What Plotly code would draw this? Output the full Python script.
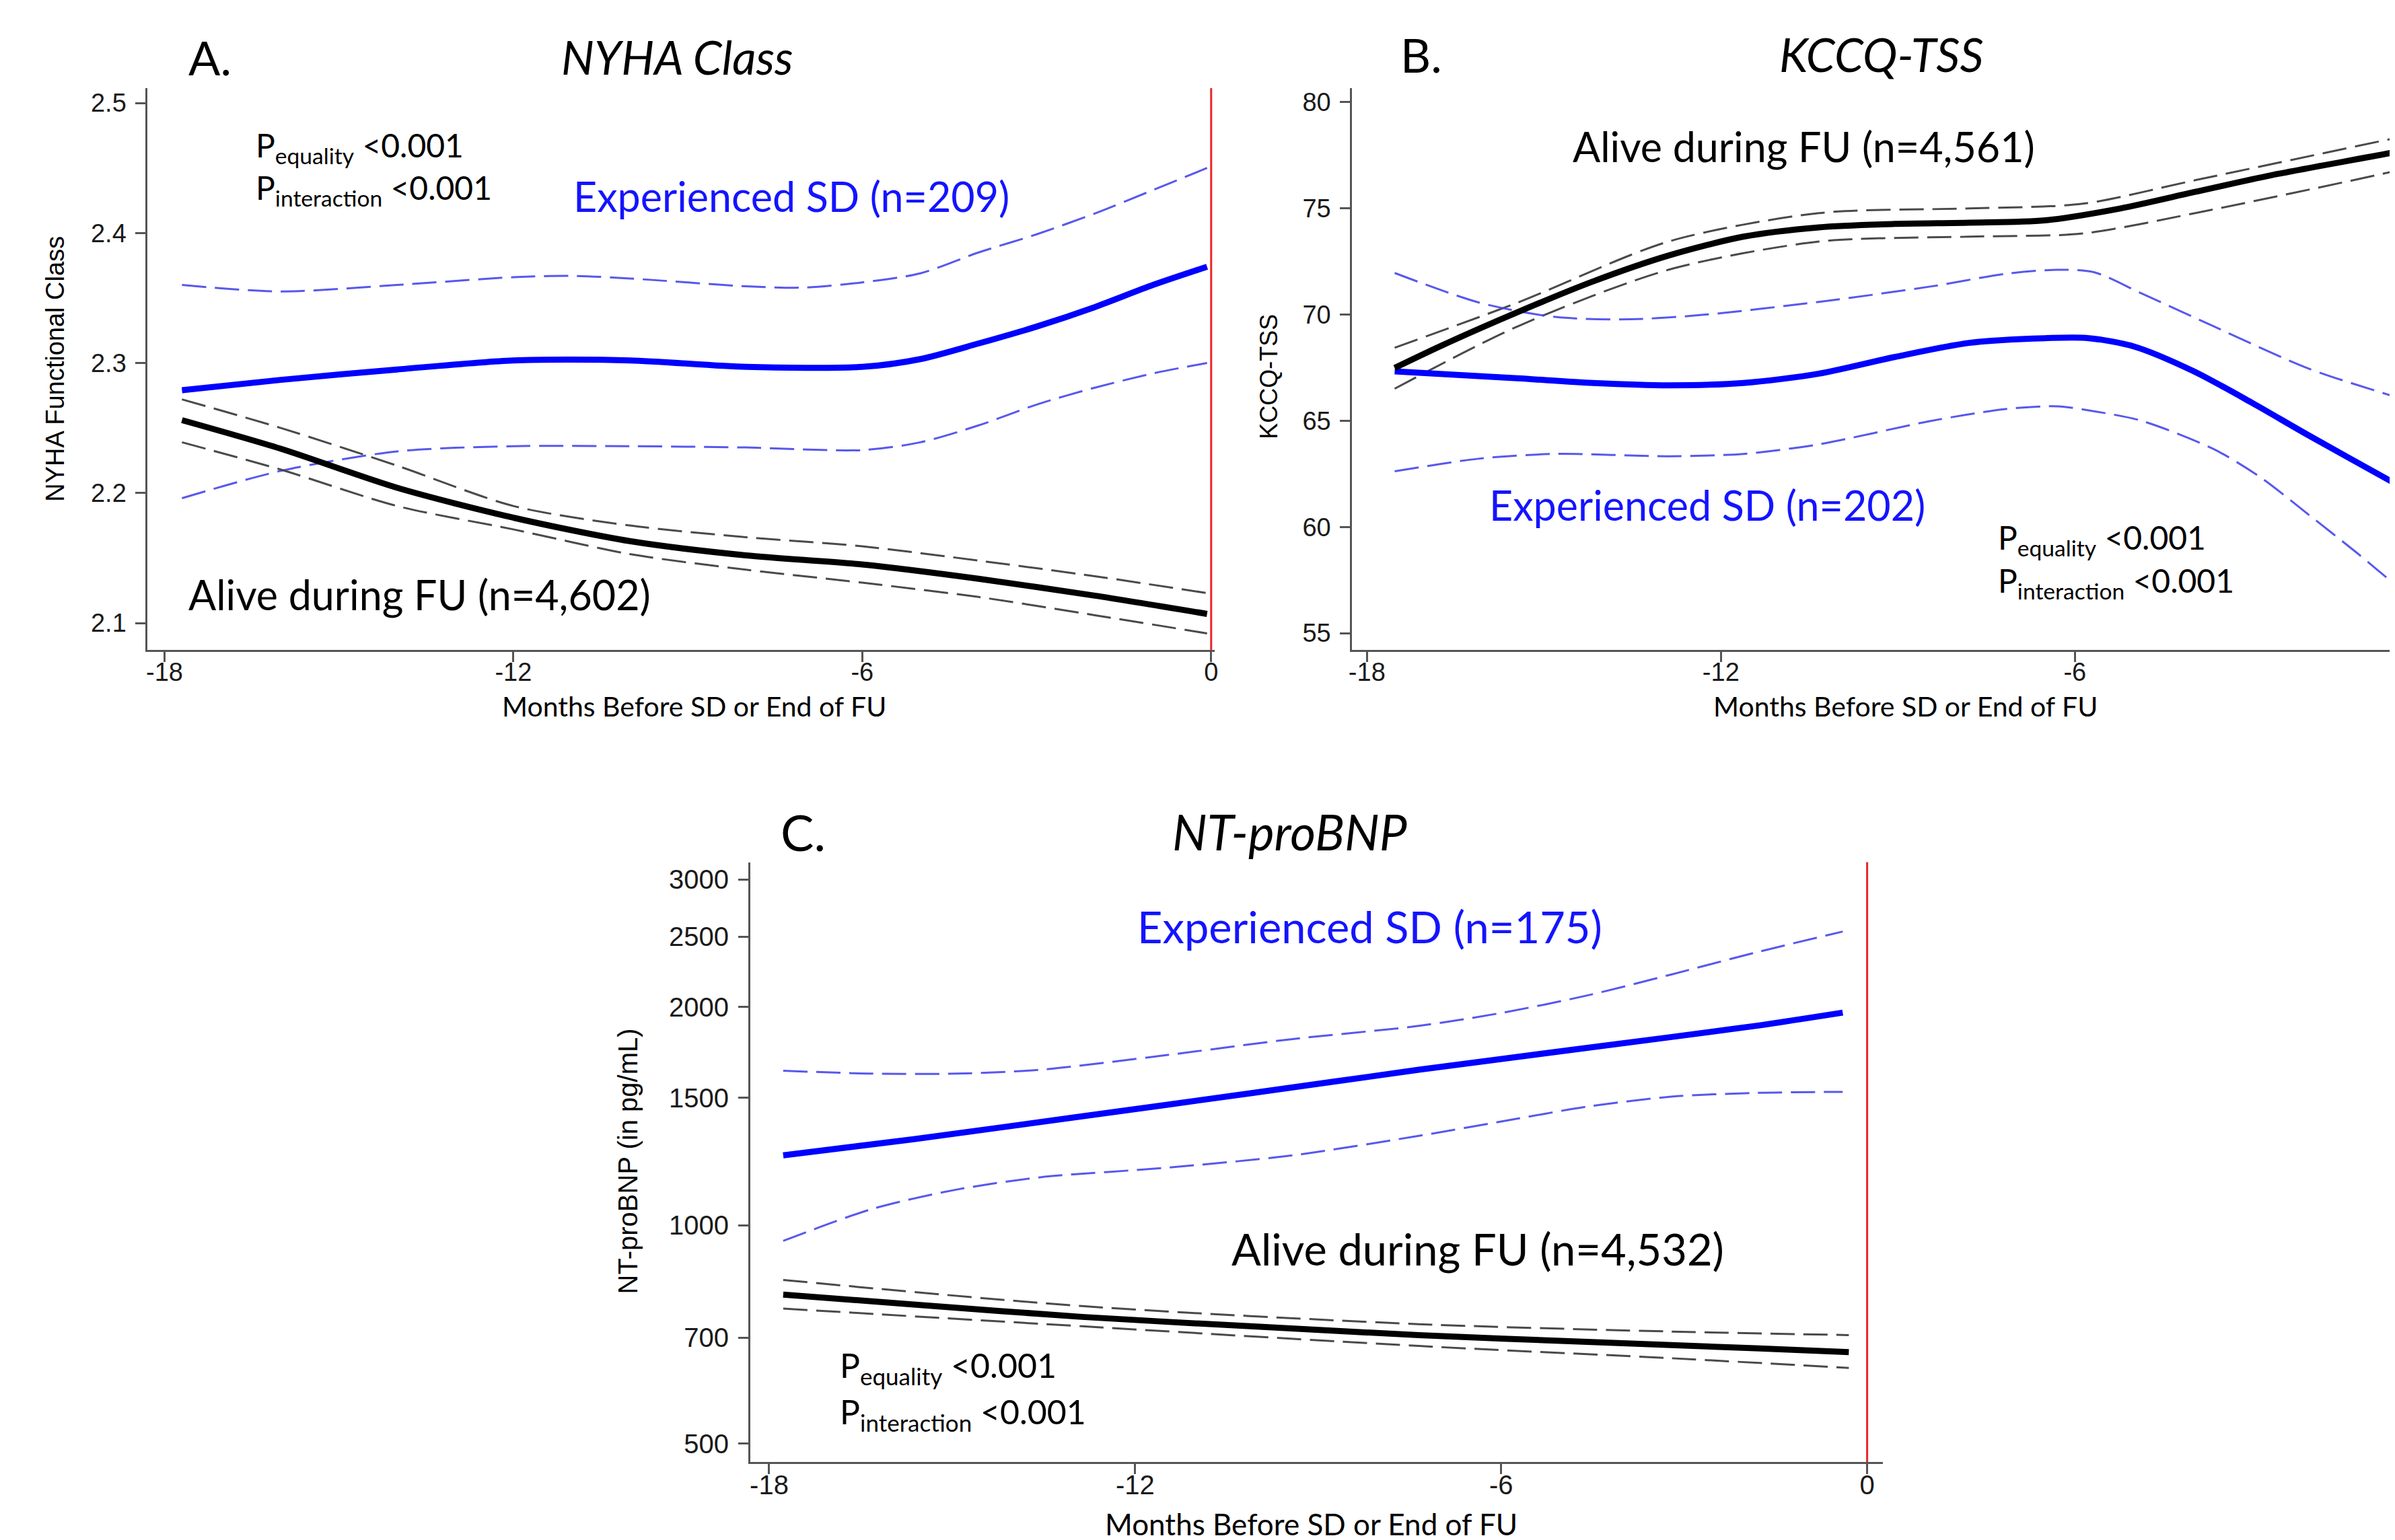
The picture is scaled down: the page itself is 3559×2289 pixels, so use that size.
import plotly.graph_objects as go

W, H = 3559, 2289

# ---------------- Panel A: NYHA class ----------------
a_blue_x = [-17.7, -16, -14, -12, -10, -8, -6, -5, -4, -3, -2, -1, -0.07]
a_blue = [2.279, 2.287, 2.295, 2.302, 2.302, 2.297, 2.297, 2.303, 2.315, 2.328, 2.343, 2.36, 2.374]
a_blue_hi_x = [-17.7, -16, -14, -12, -11, -10, -8, -7, -6, -5, -4, -3, -2, -1, -0.07]
a_blue_hi = [2.360, 2.355, 2.360, 2.366, 2.367, 2.365, 2.359, 2.358, 2.362, 2.369, 2.385, 2.399, 2.415, 2.433, 2.450]
a_blue_lo_x = [-17.7, -16, -14, -12, -10, -8, -6, -5, -4, -3, -2, -1, -0.07]
a_blue_lo = [2.196, 2.217, 2.232, 2.236, 2.236, 2.235, 2.233, 2.239, 2.252, 2.268, 2.281, 2.292, 2.300]
a_blk_x = [-17.7, -16, -14, -12, -10, -8, -6, -4, -2, -0.07]
a_blk = [2.256, 2.234, 2.204, 2.181, 2.163, 2.152, 2.145, 2.134, 2.121, 2.107]
a_blk_hi = [2.272, 2.250, 2.221, 2.190, 2.175, 2.166, 2.159, 2.148, 2.136, 2.123]
a_blk_lo = [2.239, 2.218, 2.190, 2.172, 2.153, 2.141, 2.131, 2.120, 2.106, 2.092]

# ---------------- Panel B: KCCQ-TSS ----------------
b_blk_x = [-17.53, -16.72, -15.45, -14.17, -12.89, -11.62, -10.34, -9.06, -7.79, -6.51, -5.23, -3.96, -2.68, -0.54, -0.07]
b_blk = [67.49, 68.56, 70.11, 71.56, 72.78, 73.67, 74.11, 74.27, 74.33, 74.44, 75.0, 75.78, 76.56, 77.67, 77.95]
b_blk_band_x = [-17.53, -15.45, -12.89, -10.34, -7.79, -5.87, -3.96, -0.54, -0.07]
b_blk_hi = [68.44, 70.56, 73.44, 74.78, 75.0, 75.22, 76.33, 78.33, 78.6]
b_blk_lo = [66.51, 69.44, 72.11, 73.44, 73.67, 73.82, 74.78, 76.78, 77.1]
b_blue_x = [-17.53, -15.45, -14.17, -12.89, -11.62, -10.34, -9.06, -7.79, -6.51, -5.76, -5.0, -4.0, -3.0, -2.03, -0.54, -0.07]
b_blue = [67.33, 67.0, 66.78, 66.67, 66.78, 67.22, 68.0, 68.67, 68.89, 68.89, 68.5, 67.35, 65.85, 64.3, 62.0, 61.3]
b_blue_hi_x = [-17.53, -16.09, -14.81, -13.53, -12.26, -10.34, -8.43, -7.15, -6.29, -5.68, -4.87, -3.65, -2.03, -0.54, -0.07]
b_blue_hi = [71.96, 70.56, 69.89, 69.78, 70.0, 70.6, 71.33, 71.93, 72.11, 72.0, 71.0, 69.45, 67.45, 66.1, 65.7]
b_blue_lo_x = [-17.53, -16.09, -14.81, -12.89, -11.62, -10.34, -8.43, -7.15, -6.29, -5.68, -4.87, -3.65, -2.85, -2.03, -1.22, -0.54, -0.07]
b_blue_lo = [62.62, 63.22, 63.44, 63.33, 63.44, 63.89, 65.0, 65.56, 65.68, 65.45, 65.0, 63.67, 62.33, 60.56, 58.78, 57.22, 56.3]

# ---------------- Panel C: NT-proBNP ----------------
c_blue_x = [-17.77, -15.63, -12.87, -10.11, -7.35, -4.59, -1.83, -0.4]
c_blue = [1249, 1315, 1414, 1521, 1639, 1757, 1884, 1965]
c_blue_band_x = [-17.77, -16.32, -14.94, -13.56, -11.49, -9.42, -7.35, -5.97, -4.59, -3.21, -1.83, -0.4]
c_blue_hi = [1634, 1619, 1619, 1639, 1717, 1807, 1884, 1965, 2075, 2218, 2378, 2542]
c_blue_lo = [952, 1053, 1120, 1165, 1201, 1249, 1329, 1392, 1458, 1505, 1523, 1528]
c_blk_x = [-17.77, -15.63, -12.87, -10.11, -7.35, -4.59, -1.83, -0.3]
c_blk = [803, 778, 748, 726, 706, 691, 677, 669]
c_blk_band_x = [-17.77, -12.87, -7.35, -3.21, -0.3]
c_blk_hi = [841, 774, 731, 714, 706]
c_blk_lo = [768, 726, 682, 656, 636]

x_ticks = [-18, -12, -6, 0]
x_tick_text = ["-18", "-12", "-6", "0"]
a_y_ticks = [2.1, 2.2, 2.3, 2.4, 2.5]
b_y_ticks = [55, 60, 65, 70, 75, 80]
c_y_ticks = [500, 700, 1000, 1500, 2000, 2500, 3000]

BLUE = "#0000ff"
BLUE_D = "rgba(70,70,235,0.9)"
BLACK = "#000000"
GRAY_D = "#4a4a4a"
TXT_BLUE = "#1414ff"
DASH = "36px,13px"

fig = go.Figure()


def add_line(x, y, xa, ya, color, width, dash="solid"):
    fig.add_trace(go.Scatter(x=x, y=y, xaxis=xa, yaxis=ya, mode="lines",
                             line=dict(color=color, width=width, dash=dash, shape="spline", smoothing=0.8),
                             showlegend=False, hoverinfo="skip"))


# Panel A
add_line(a_blue_hi_x, a_blue_hi, "x", "y", BLUE_D, 3, DASH)
add_line(a_blue_lo_x, a_blue_lo, "x", "y", BLUE_D, 3, DASH)
add_line(a_blk_x, a_blk_hi, "x", "y", GRAY_D, 3, DASH)
add_line(a_blk_x, a_blk_lo, "x", "y", GRAY_D, 3, DASH)
add_line(a_blue_x, a_blue, "x", "y", BLUE, 9)
add_line(a_blk_x, a_blk, "x", "y", BLACK, 9)
# Panel B
add_line(b_blk_band_x, b_blk_hi, "x2", "y2", GRAY_D, 3, DASH)
add_line(b_blk_band_x, b_blk_lo, "x2", "y2", GRAY_D, 3, DASH)
add_line(b_blue_hi_x, b_blue_hi, "x2", "y2", BLUE_D, 3, DASH)
add_line(b_blue_lo_x, b_blue_lo, "x2", "y2", BLUE_D, 3, DASH)
add_line(b_blue_x, b_blue, "x2", "y2", BLUE, 9)
add_line(b_blk_x, b_blk, "x2", "y2", BLACK, 9)
# Panel C
add_line(c_blue_band_x, c_blue_hi, "x3", "y3", BLUE_D, 3, DASH)
add_line(c_blue_band_x, c_blue_lo, "x3", "y3", BLUE_D, 3, DASH)
add_line(c_blk_band_x, c_blk_hi, "x3", "y3", GRAY_D, 3, DASH)
add_line(c_blk_band_x, c_blk_lo, "x3", "y3", GRAY_D, 3, DASH)
add_line(c_blue_x, c_blue, "x3", "y3", BLUE, 9)
add_line(c_blk_x, c_blk, "x3", "y3", BLACK, 9)


def px(v):
    return v / W


def py(v):
    return 1 - v / H


AXC = "#555555"
TICKFONT = dict(family="Liberation Sans, Arial, sans-serif", size=38, color="#1a1a1a")
TICKFONT_C = dict(family="Liberation Sans, Arial, sans-serif", size=40, color="#1a1a1a")


def axis_common(font, standoff):
    return dict(showline=True, linecolor=AXC, linewidth=3, ticks="outside", ticklen=15,
                tickwidth=3, tickcolor=AXC, showgrid=False, zeroline=False, tickfont=font,
                ticklabelstandoff=standoff)


fig.update_layout(
    width=W, height=H, margin=dict(l=0, r=0, t=0, b=0),
    paper_bgcolor="white", plot_bgcolor="white", showlegend=False,
    xaxis=dict(domain=[px(207), px(1797)], anchor="y", range=[-18.29, 0.06],
               tickvals=x_ticks, ticktext=x_tick_text, **axis_common(TICKFONT, -18)),
    yaxis=dict(domain=[py(958), py(123)], anchor="x", range=[2.0793, 2.5114],
               tickvals=a_y_ticks, tickformat=".1f", **axis_common(TICKFONT, 6)),
    xaxis2=dict(domain=[px(2002), 1.0], anchor="y2", range=[-18.25, -0.54],
                tickvals=x_ticks, ticktext=x_tick_text, **axis_common(TICKFONT, -18)),
    yaxis2=dict(domain=[py(958), py(123)], anchor="x2", range=[54.21, 80.665],
                tickvals=b_y_ticks, **axis_common(TICKFONT, 6)),
    xaxis3=dict(domain=[px(1105), px(2793)], anchor="y3", range=[-18.31, 0.26],
                tickvals=x_ticks, ticktext=x_tick_text, **axis_common(TICKFONT_C, -18)),
    yaxis3=dict(domain=[py(2165), py(1273.5)], anchor="x3", type="log", range=[2.6739, 3.5008],
                tickvals=c_y_ticks, ticktext=[str(v) for v in c_y_ticks], **axis_common(TICKFONT_C, 6)),
)

RED = "#e8262a"
for xr, yr in (("x", "y domain"), ("x3", "y3 domain")):
    fig.add_shape(type="line", xref=xr, yref=yr, x0=0, x1=0, y0=0, y1=1,
                  line=dict(color=RED, width=3), layer="above")

LATO = "Lato, Carlito, Open Sans, sans-serif"
SANS = "Liberation Sans, Arial, sans-serif"


def ann(text, x, y, size, color="black", xanchor="center", family=LATO, angle=0):
    fig.add_annotation(text=text, x=px(x), y=py(y), xref="paper", yref="paper",
                       xanchor=xanchor, yanchor="middle", showarrow=False, textangle=angle,
                       font=dict(family=family, size=size, color=color))


P_EQ = "P<sub>equality</sub> &lt;0.001"
P_INT = "P<sub>interaction</sub> &lt;0.001"
XT = "Months Before SD or End of FU"

# Panel A texts
ann("A.", 266, 77, 70, xanchor="left")
ann("<i>NYHA Class</i>", 996, 77, 69)
ann(P_EQ, 366, 211, 48, xanchor="left")
ann(P_INT, 366, 274, 48, xanchor="left")
ann("Experienced SD (n=209)", 1166, 284, 61, color=TXT_BLUE)
ann("Alive during FU (n=4,602)", 266, 876, 61, xanchor="left")
ann("NYHA Functional Class", 69, 540, 38, family=SANS, angle=-90)
ann(XT, 1021, 1042, 41)

# Panel B texts
ann("B.", 2072, 73, 70, xanchor="left")
ann("<i>KCCQ-TSS</i>", 2790, 73, 69)
ann("Alive during FU (n=4,561)", 2675, 209, 61)
ann("Experienced SD (n=202)", 2531, 742, 61, color=TXT_BLUE)
ann(P_EQ, 2962, 794, 48, xanchor="left")
ann(P_INT, 2962, 858, 48, xanchor="left")
ann("KCCQ-TSS", 1878, 552, 36, family=SANS, angle=-90)
ann(XT, 2826, 1042, 41)

# Panel C texts
ann("C.", 1148, 1228, 74, xanchor="left")
ann("<i>NT-proBNP</i>", 1909, 1228, 73)
ann("Experienced SD (n=175)", 2028, 1369, 65, color=TXT_BLUE)
ann("Alive during FU (n=4,532)", 2189, 1848, 65)
ann(P_EQ, 1236, 2024, 50, xanchor="left")
ann(P_INT, 1236, 2093, 50, xanchor="left")
ann("NT-proBNP (in pg/mL)", 923, 1718, 40, family=SANS, angle=-90)
ann(XT, 1941, 2257, 44)

fig.write_html("out.html")
